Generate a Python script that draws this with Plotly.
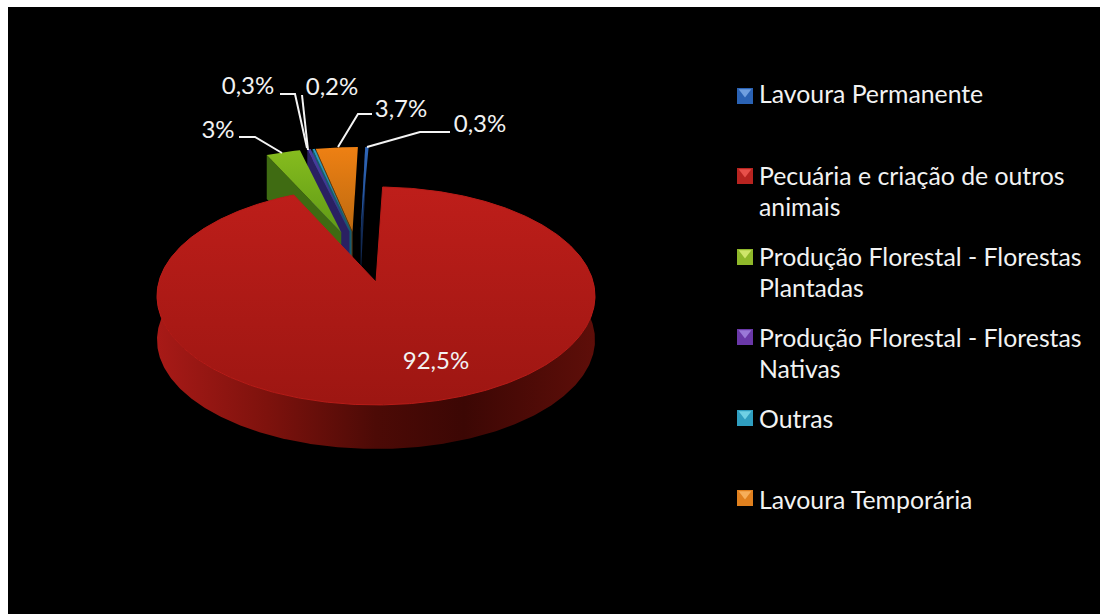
import numpy as np
import plotly.graph_objects as go

# Slice data, in clockwise drawing order starting just right of twelve o'clock
categories = [
    "Lavoura Permanente",
    "Pecuária e criação de outros<br>animais",
    "Produção Florestal - Florestas<br>Plantadas",
    "Produção Florestal - Florestas<br>Nativas",
    "Outras",
    "Lavoura Temporária",
]
values = [0.3, 92.5, 3.0, 0.3, 0.2, 3.7]
value_labels = ["0,3%", "92,5%", "3%", "0,3%", "0,2%", "3,7%"]

# Top face colours: (far edge, near edge)
top_colors = [
    ("#2f66b8", "#1f4a8c"), ("#be1e1a", "#9d1612"), ("#86bc1e", "#5f9a16"),
    ("#4b3ca0", "#3a2c84"), ("#2a9cc0", "#1f7a98"), ("#ee8013", "#bd6a10"),
]
wall_colors = ["#122a55", "#5a0f08", "#3f6b12", "#2a2062", "#155a70", "#5e3c10"]
legend_dark = ["#2a62b4", "#b82420", "#8fb82a", "#6a38a8", "#2f9ec0", "#e0801e"]
legend_light = ["#6f9fe0", "#e8504a", "#cfe56a", "#9a78d8", "#6fd0e4", "#f6ae5a"]

# Disc offsets that pull each slice away from the red wedge's apex
explode_u = [-0.075, 0.0, -0.170, -0.130, -0.120, -0.115]
explode_v = [0.500, 0.0, 0.490, 0.500, 0.500, 0.500]

# Perspective used to lay the tilted disc on the page, in page pixels
CX, CY, RADIUS_X, RADIUS_Y, TILT = 376.0, 282.0, 217.2, 107.2, 0.128
DEPTH = 44.0
START_ANGLE = 0.9

# Value labels and their leader lines
label_x = [480, 436, 218, 248, 332, 401]
label_y = [126, 363, 132, 88, 89, 111]
leader_x = [[450, 420, 367], None, [239, 255, 282], [280, 295, 307], [302, 308], [372, 358, 338]]
leader_y = [[132, 132, 147], None, [137, 137, 153], [94, 94, 148], [95, 150], [114, 114, 147]]

legend_marker_x = 745
legend_text_x = 759
legend_marker_y = [96, 176, 257, 337, 418, 498]
legend_text_y = [97, 179, 260, 341, 422, 503]
LINE_STEP = 31

FONT = "Lato, Carlito, Calibri, sans-serif"


def project(u, v):
    d = 1 + TILT * v
    return CX + RADIUS_X * u / d, CY - RADIUS_Y * v / d


def arc(index):
    sweep = np.cumsum([0] + [val / sum(values) * 360 for val in values])
    a0, a1 = START_ANGLE + sweep[index], START_ANGLE + sweep[index + 1]
    theta = np.radians(np.linspace(a0, a1, max(4, int(a1 - a0) * 2)))
    u = explode_u[index] + np.sin(theta)
    v = explode_v[index] + np.cos(theta)
    return project(u, v)


def polygon(fig, x, y, **style):
    fig.add_trace(go.Scatter(x=list(x), y=list(y), mode="lines", fill="toself",
                             line=dict(width=0), hoverinfo="skip", **style))


def top_gradient(i):
    far, near = top_colors[i]
    return dict(type="vertical", colorscale=[[0, near], [1, far]])


fig = go.Figure()

# Exploded small slices go first, back to front, the big wedge covers their lower ends
for i in [0, 5, 4, 3, 2]:
    rim_x, rim_y = arc(i)
    ax, ay = project(explode_u[i], explode_v[i])
    # Only the cut face on the slice's left side looks towards the viewer
    ex, ey = rim_x[0], rim_y[0]
    polygon(fig, [ex, ax, ax, ex], [ey, ay, ay + DEPTH, ey + DEPTH], fillcolor=wall_colors[i])
    polygon(fig, [ax, *rim_x], [ay, *rim_y], fillgradient=top_gradient(i))

# Big wedge: outer wall, then top face
rim_x, rim_y = arc(1)
polygon(fig, [*rim_x, *rim_x[::-1]], [*rim_y, *(rim_y[::-1] + DEPTH)],
        fillgradient=dict(type="horizontal",
                          colorscale=[[0, "#a81a17"], [0.25, "#7e120d"], [0.5, "#4c0a06"],
                                      [0.7, "#3c0704"], [1, "#5e0e09"]]))
ax, ay = project(0, 0)
fig.add_trace(go.Scatter(
    x=[ax, *rim_x, ax], y=[ay, *rim_y, ay], mode="lines", fill="toself",
    line=dict(width=1, color="#b81c18"), hoverinfo="skip",
    fillgradient=top_gradient(1),
))

# Leader lines and percentages
for lx, ly in zip(leader_x, leader_y):
    if lx:
        fig.add_trace(go.Scatter(x=lx, y=ly, mode="lines", hoverinfo="skip",
                                 line=dict(color="#f4f4f4", width=2)))
fig.add_trace(go.Scatter(x=label_x, y=label_y, mode="text", text=value_labels, hoverinfo="skip",
                         textposition="middle center",
                         textfont=dict(family=FONT, size=24, color="#f2f2f2")))

# Legend built from the category list
for i, name in enumerate(categories):
    fig.add_trace(go.Scatter(x=[legend_marker_x], y=[legend_marker_y[i]], mode="markers", hoverinfo="skip",
                             marker=dict(symbol="square", size=16, color=legend_dark[i])))
    fig.add_trace(go.Scatter(x=[legend_marker_x], y=[legend_marker_y[i] - 4], mode="markers", hoverinfo="skip",
                             marker=dict(symbol="triangle-down", size=11, color=legend_light[i])))
    for n, line in enumerate(name.split("<br>")):
        fig.add_trace(go.Scatter(x=[legend_text_x], y=[legend_text_y[i] + n * LINE_STEP], mode="text",
                                 text=[line], textposition="middle right", hoverinfo="skip",
                                 textfont=dict(family=FONT, size=24.8, color="#f2f2f2")))

fig.update_layout(
    width=1100, height=614, margin=dict(l=0, r=0, t=0, b=0),
    paper_bgcolor="#ffffff", plot_bgcolor="#ffffff", showlegend=False,
    xaxis=dict(range=[0, 1100], visible=False, fixedrange=True),
    yaxis=dict(range=[614, 0], visible=False, fixedrange=True),
    shapes=[dict(type="rect", layer="below", x0=8, x1=1100, y0=7, y1=614,
                 fillcolor="#000000", line=dict(width=0))],
)

fig.write_html("out.html")
